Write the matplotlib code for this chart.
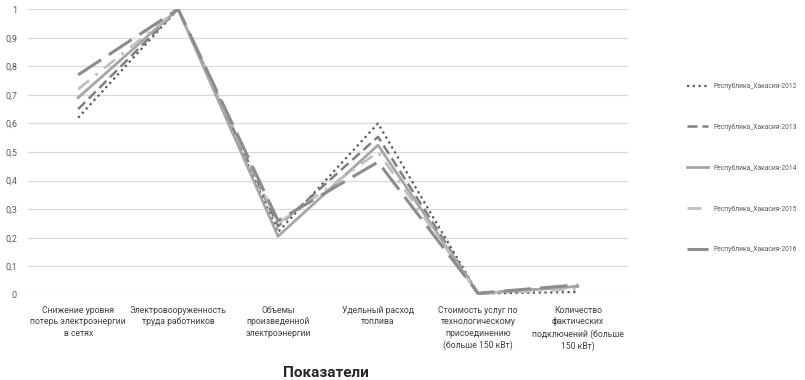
import matplotlib.pyplot as plt

plt.rcParams['font.family'] = ['Roboto', 'DejaVu Sans']

categories = [
    "Снижение уровня\nпотерь электроэнергии\nв сетях",
    "Электровооруженность\nтруда работников",
    "Объемы\nпроизведенной\nэлектроэнергии",
    "Удельный расход\nтоплива",
    "Стоимость услуг по\nтехнологическому\nприсоединению\n(больше 150 кВт)",
    "Количество\nфактических\nподключений (больше\n150 кВт)",
]

series_names = [
    "Республика_Хакасия-2012",
    "Республика_Хакасия-2013",
    "Республика_Хакасия-2014",
    "Республика_Хакасия-2015",
    "Республика_Хакасия-2016",
]

v2012 = [0.62, 1.0, 0.22, 0.60, 0.005, 0.01]
v2013 = [0.65, 1.0, 0.24, 0.553, 0.005, 0.03]
v2014 = [0.69, 1.0, 0.205, 0.524, 0.004, 0.03]
v2015 = [0.72, 1.0, 0.25, 0.50, 0.005, 0.02]
v2016 = [0.77, 1.0, 0.26, 0.465, 0.006, 0.035]

yticks = [0, 0.1, 0.2, 0.3, 0.4, 0.5, 0.6, 0.7, 0.8, 0.9, 1]

# стили линий в духе Excel
styles = [
    dict(color="#595959", linestyle=(0, (1, 1.6)), linewidth=1.6),
    dict(color="#7f7f7f", linestyle=(0, (4, 2)), linewidth=1.8),
    dict(color="#a6a6a6", linestyle="-", linewidth=2.0),
    dict(color="#c0c0c0", linestyle=(0, (5, 3, 1, 3)), linewidth=2.0),
    dict(color="#8c8c8c", linestyle=(0, (9, 3)), linewidth=2.2),
]

fig = plt.figure(figsize=(8.05, 3.8), dpi=100)
ax = fig.add_axes([0.035, 0.224, 0.745, 0.752])

x = list(range(len(categories)))
for vals, name, st in zip([v2012, v2013, v2014, v2015, v2016], series_names, styles):
    ax.plot(x, vals, label=name, **st)

ax.set_xlim(-0.5, len(categories) - 0.5)
ax.set_ylim(0, 1)
ax.set_yticks(yticks)
ax.set_yticklabels([("%g" % t).replace(".", ",") for t in yticks])
ax.set_xticks(x)
ax.set_xticklabels(categories, fontsize=6.2, color="#404040", va="top", linespacing=1.35)
ax.tick_params(axis="y", labelsize=6.5, labelcolor="#595959", length=0, pad=8)
ax.tick_params(axis="x", length=0, pad=8)
ax.grid(axis="y", color="#d9d9d9", linewidth=0.9)
ax.set_axisbelow(True)
for s in ax.spines.values():
    s.set_visible(False)

fig.text(0.405, 0.008, "Показатели", ha="center", fontsize=11, fontweight="bold", color="#262626")

leg = fig.legend(loc="center left", bbox_to_anchor=(0.846, 0.558), frameon=False,
                 fontsize=4.9, labelspacing=4.9, handlelength=3.0, handletextpad=0.8)
for t in leg.get_texts():
    t.set_color("#595959")

fig.savefig("out.png", dpi=100)
